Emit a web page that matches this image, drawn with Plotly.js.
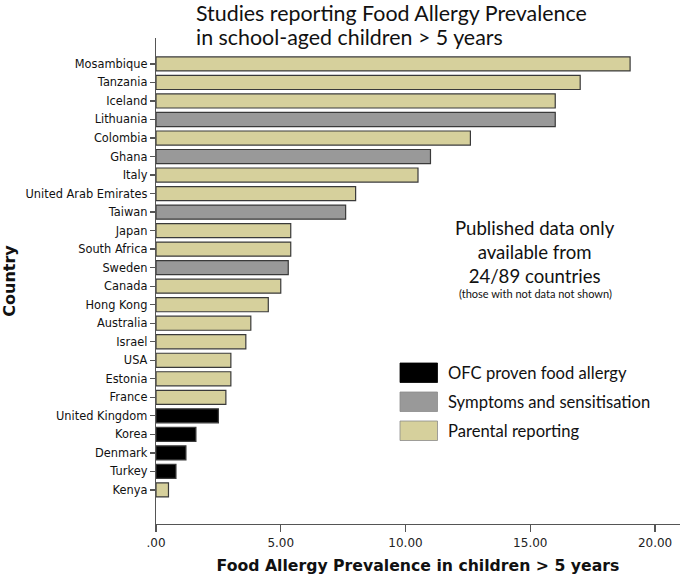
<!DOCTYPE html>
<html>
<head>
<meta charset="utf-8">
<script src="https://cdn.plot.ly/plotly-3.0.1.min.js"></script>
<style>html,body{margin:0;padding:0;background:#fff;}#chart{width:685px;height:578px;}</style>
</head>
<body>
<div id="chart"></div>
<script>
// Data
const countries = ["Mosambique","Tanzania","Iceland","Lithuania","Colombia","Ghana","Italy","United Arab Emirates","Taiwan","Japan","South Africa","Sweden","Canada","Hong Kong","Australia","Israel","USA","Estonia","France","United Kingdom","Korea","Denmark","Turkey","Kenya"];
const prevalence = [19.0,17.0,16.0,16.0,12.6,11.0,10.5,8.0,7.6,5.4,5.4,5.3,5.0,4.5,3.8,3.6,3.0,3.0,2.8,2.5,1.6,1.2,0.8,0.5];
const method = ["Parental","Parental","Parental","Symptoms","Parental","Symptoms","Parental","Parental","Symptoms","Parental","Parental","Symptoms","Parental","Parental","Parental","Parental","Parental","Parental","Parental","OFC","OFC","OFC","OFC","Parental"];
const groups = ["OFC","Symptoms","Parental"];
const groupLabels = ["OFC proven food allergy","Symptoms and sensitisation","Parental reporting"];
const xTickVals = [0,5,10,15,20];
const xTickText = [".00","5.00","10.00","15.00","20.00"];
const titleLines = ["Studies reporting Food Allergy Prevalence","in school-aged children > 5 years"];
const noteLines = "Published data only<br>available from<br>24/89 countries";
const noteSmall = "(those with not data not shown)";

const colorMap = {OFC:"#000000", Symptoms:"#999999", Parental:"#d6d09c"};

// plot area in pixels: x 156..680, y 38..524
const PL = 156, PW = 524, PB = 524, PH = 486;
const px = v => (v - PL) / PW;
const py = v => (PB - v) / PH;

const trace = {
  type: "bar",
  orientation: "h",
  y: countries,
  x: prevalence,
  width: 0.76,
  marker: {
    color: method.map(m => colorMap[m]),
    line: {color: "#3a3a3a", width: 1.2}
  },
  hoverinfo: "x+y",
  showlegend: false
};

const shapes = [];
const annotations = [];
const legTop = [363, 392, 421];
groups.forEach((g, i) => {
  shapes.push({
    type: "rect", xref: "paper", yref: "paper",
    x0: px(400), x1: px(437.5),
    y0: py(legTop[i]), y1: py(legTop[i] + 19.5),
    fillcolor: colorMap[g], line: {color: g === "OFC" ? "#000" : "#8a8a8a", width: 0.8}
  });
  annotations.push({
    xref: "paper", yref: "paper",
    x: px(446), y: py(legTop[i] + 9.5),
    xanchor: "left", yanchor: "middle", showarrow: false,
    text: groupLabels[i],
    font: {family: "Lato, 'Open Sans', sans-serif", size: 16.6, color: "#111"}
  });
});

titleLines.forEach((t, i) => {
  annotations.push({
    xref: "paper", yref: "paper",
    x: px(194), y: py(13 + i * 24.5),
    xanchor: "left", yanchor: "middle", showarrow: false,
    text: t,
    font: {family: "Lato, 'Open Sans', sans-serif", size: 21.4, color: "#111"}
  });
});

annotations.push({
  xref: "paper", yref: "paper",
  x: px(535), y: py(252.5),
  xanchor: "center", yanchor: "middle", showarrow: false,
  text: noteLines,
  font: {family: "Lato, 'Open Sans', sans-serif", size: 18.6, color: "#111"}
});
annotations.push({
  xref: "paper", yref: "paper",
  x: px(535), y: py(293),
  xanchor: "center", yanchor: "middle", showarrow: false,
  text: noteSmall,
  font: {family: "Lato, 'Open Sans', sans-serif", size: 11, color: "#111"}
});

const layout = {
  width: 685, height: 578,
  margin: {l: 156, r: 5, t: 38, b: 54},
  paper_bgcolor: "#fff", plot_bgcolor: "#fff",
  xaxis: {
    range: [0, 21], autorange: false,
    tickvals: xTickVals, ticktext: xTickText,
    showgrid: false, zeroline: false,
    showline: true, linecolor: "#555", linewidth: 1.3,
    ticks: "outside", ticklen: 7, tickcolor: "#555", tickwidth: 1.3,
    tickfont: {family: "'DejaVu Sans', sans-serif", size: 12, color: "#222"},
    title: {text: "<b>Food Allergy Prevalence in children > 5 years</b>", standoff: 11,
      font: {family: "'DejaVu Sans', sans-serif", size: 15.7, color: "#111"}},
    fixedrange: true
  },
  yaxis: {
    type: "category",
    categoryorder: "array", categoryarray: countries,
    range: [24.84, -1.4], autorange: false,
    showgrid: false, zeroline: false,
    showline: true, linecolor: "#555", linewidth: 1.3,
    ticks: "outside", ticklen: 5, tickcolor: "#555", tickwidth: 1.3,
    tickfont: {family: "'DejaVu Sans', sans-serif", size: 11.4, color: "#111"},
    title: {text: "<b>Country</b>", standoff: 6,
      font: {family: "'DejaVu Sans', sans-serif", size: 16, color: "#111"}},
    fixedrange: true
  },
  shapes: shapes,
  annotations: annotations,
  showlegend: false,
  bargap: 0.2
};

Plotly.newPlot("chart", [trace], layout, {displayModeBar: false, staticPlot: true});
</script>
</body>
</html>
